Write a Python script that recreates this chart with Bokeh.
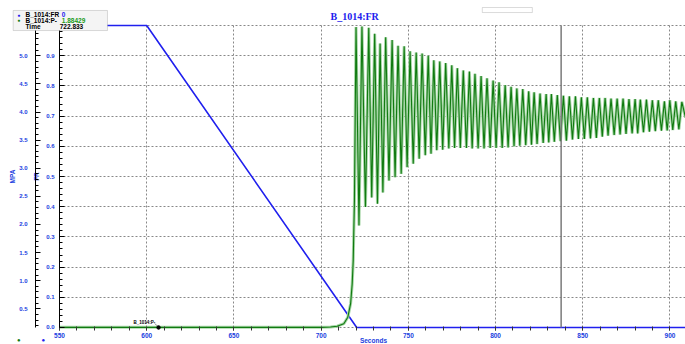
import numpy as np
from bokeh.plotting import figure
from bokeh.models import (Range1d, LinearAxis, FixedTicker, Label, BoxAnnotation,
                          PrintfTickFormatter)
from bokeh.embed import file_html
from bokeh.resources import INLINE

# ---- data ----
fr_t = [550, 600, 720.4, 908.9]
fr_v = [1.0, 1.0, 0.0, 0.0]

rise_t = [550, 700, 705.4, 709.2, 713.0, 715.3, 716.9, 717.8, 718.4, 718.7, 719.1]
rise_v = [0.17, 0.17, 0.175, 0.19, 0.235, 0.35, 0.59, 0.94, 1.36, 1.84, 2.43]

peak_t = [720.0, 723.4, 727.3, 730.7, 733.8, 737.0, 740.7, 744.1, 747.6, 751.0,
          754.5, 757.9, 761.4, 764.6, 768.0, 771.4, 774.9, 778.1, 781.5, 785.0,
          788.2, 791.7, 795.1, 798.6, 802.0, 805.5, 808.9, 812.2, 815.6, 819.0,
          822.1, 825.5, 829.0, 832.0, 835.4, 838.9, 842.3, 845.8, 849.2, 852.6,
          856.1, 859.5, 862.8, 866.2, 869.7, 873.1, 876.5, 880.0, 883.0, 886.5,
          889.9, 893.3, 896.8, 899.9, 903.3, 906.8]
peak_v = [5.51, 5.52, 5.50, 5.39, 5.22, 5.33, 5.28, 5.18, 5.17, 5.08,
          5.06, 5.04, 5.00, 4.92, 4.90, 4.87, 4.83, 4.78, 4.74, 4.72,
          4.68, 4.64, 4.60, 4.56, 4.53, 4.48, 4.45, 4.42, 4.41, 4.37,
          4.35, 4.33, 4.32, 4.32, 4.30, 4.29, 4.28, 4.28, 4.26, 4.26,
          4.25, 4.25, 4.25, 4.24, 4.24, 4.24, 4.23, 4.23, 4.22, 4.22,
          4.21, 4.21, 4.19, 4.21, 4.19, 4.18]
trough_t = [721.7, 725.4, 729.0, 732.3, 735.4, 738.9, 742.4, 745.9, 749.3, 752.8,
            756.2, 759.7, 763.0, 766.3, 769.7, 773.2, 776.5, 779.8, 783.3, 786.6,
            790.0, 793.4, 796.9, 800.3, 803.8, 807.2, 810.6, 813.9, 817.3, 820.6,
            823.8, 827.3, 830.5, 833.7, 837.2, 840.6, 844.1, 847.5, 850.9, 854.4,
            857.8, 861.2, 864.5, 868.0, 871.4, 874.8, 878.3, 881.5, 884.8, 888.2,
            891.6, 895.1, 898.4, 901.6, 905.1]
trough_v = [1.98, 2.31, 2.48, 2.37, 2.57, 2.78, 2.84, 2.90, 3.02, 3.08,
            3.17, 3.23, 3.26, 3.32, 3.33, 3.35, 3.36, 3.36, 3.36, 3.35,
            3.35, 3.35, 3.36, 3.36, 3.36, 3.37, 3.39, 3.40, 3.41, 3.42,
            3.43, 3.45, 3.46, 3.47, 3.48, 3.49, 3.51, 3.52, 3.52, 3.53,
            3.54, 3.56, 3.58, 3.59, 3.60, 3.61, 3.62, 3.62, 3.64, 3.65,
            3.66, 3.67, 3.67, 3.68, 3.69]
end_t = [908.9]
end_v = [3.9]

x_ticks = [550, 600, 650, 700, 750, 800, 850, 900]
fr_ticks = [0.0, 0.1, 0.2, 0.3, 0.4, 0.5, 0.6, 0.7, 0.8, 0.9]
mpa_ticks = [0.5, 1.0, 1.5, 2.0, 2.5, 3.0, 3.5, 4.0, 4.5, 5.0]
cursor_time = 837.6

legend_time = "722.833"
legend_fr = "0"
legend_p = "1.88429"

# axis extents (data units)
T0, T1 = 550, 908.9
FR0, FR1 = 0.0, 1.0
P0, P1 = 0.167, 5.539

# ---- build pressure series ----
osc = sorted(list(zip(peak_t, peak_v)) + list(zip(trough_t, trough_v)))
p_t = rise_t + [a for a, b in osc] + end_t
p_v = rise_v + [b for a, b in osc] + end_v

BLUE = "#2020ee"
LBL = "#2040e0"
GREEN = "#107a10"
FONT = "Liberation Sans"

# frame covers the whole canvas; axes are pinned with fixed_location
p = figure(width=685, height=344, output_backend="svg", toolbar_location=None,
           x_range=Range1d(516.17, 908.9), y_range=Range1d(-0.0563, 1.0828),
           min_border=0, min_border_left=0, min_border_right=0,
           min_border_top=0, min_border_bottom=0)
p.outline_line_color = None
p.background_fill_color = "white"
p.border_fill_color = "white"
p.extra_y_ranges = {"mpa": Range1d(-0.1354, 5.9837)}

# grids
p.xgrid.ticker = FixedTicker(ticks=[600, 650, 700, 750, 800, 850, 900])
p.ygrid.ticker = FixedTicker(ticks=[0.0, 0.1, 0.2, 0.3, 0.4, 0.5, 0.6, 0.7, 0.8, 0.9, 1.0])
p.xgrid.bounds = (T0, T1)
p.xgrid.cross_bounds = (FR0, FR1)
p.ygrid.bounds = (FR0, FR1)
p.ygrid.cross_bounds = (T0, T1)
for g in (p.xgrid, p.ygrid):
    g.grid_line_color = "#888888"
    g.grid_line_dash = "2 2"
    g.grid_line_width = 1

# x axis
xa = p.xaxis[0]
xa.fixed_location = 0.0
xa.bounds = (T0, T1)
xa.ticker = FixedTicker(ticks=x_ticks, minor_ticks=list(np.arange(550, 909, 10)))
xa.axis_line_color = None
xa.major_tick_in = 0
xa.major_tick_out = 3
xa.minor_tick_in = 1
xa.minor_tick_out = 3
xa.major_tick_line_color = "#333333"
xa.minor_tick_line_color = "#333333"
xa.major_label_standoff = 3
xa.major_label_text_font = FONT
xa.major_label_text_font_size = "6.5px"
xa.major_label_text_font_style = "bold"
xa.major_label_text_color = LBL

# FR axis (inner)
ya = p.yaxis[0]
ya.fixed_location = T0
ya.bounds = (FR0, FR1)
ya.ticker = FixedTicker(ticks=fr_ticks, minor_ticks=list(np.round(np.arange(0, 1.001, 0.02), 3)))
ya.axis_label = "FR"

mpa_axis = LinearAxis(y_range_name="mpa", fixed_location=536.24, bounds=(P0, P1),
                      ticker=FixedTicker(ticks=mpa_ticks,
                                         minor_ticks=list(np.round(np.arange(0.2, 5.54, 0.1), 2))),
                      axis_label="MPA")
p.add_layout(mpa_axis, "left")

for ax, st, ast in ((ya, 5, 3), (mpa_axis, 8, 0)):
    ax.formatter = PrintfTickFormatter(format="%.1f")
    ax.axis_line_color = "black"
    ax.axis_line_width = 1
    ax.major_tick_in = 5
    ax.major_tick_out = 0
    ax.minor_tick_in = 3
    ax.minor_tick_out = 0
    ax.major_tick_line_color = "black"
    ax.minor_tick_line_color = "black"
    ax.major_label_standoff = st
    ax.major_label_text_font = FONT
    ax.major_label_text_font_size = "6px"
    ax.major_label_text_font_style = "bold"
    ax.major_label_text_color = LBL
    ax.axis_label_standoff = ast
    ax.axis_label_text_font = FONT
    ax.axis_label_text_font_size = "6.5px"
    ax.axis_label_text_font_style = "bold"
    ax.axis_label_text_color = LBL

# lines
p.line(fr_t, fr_v, line_color=BLUE, line_width=1.6)
p.line(p_t, p_v, y_range_name="mpa", line_color="#a6d6a6", line_width=3.0)
p.line(p_t, p_v, y_range_name="mpa", line_color=GREEN, line_width=1.1)

# cursor
p.line([cursor_time, cursor_time], [FR0, FR1], line_color="#7a7a7a", line_width=1.5)

# small series tag near bottom
p.line([604.5, 606.8], [0.0132, 0.002], line_color="#777777", line_width=0.8)
p.scatter([606.8], [0.0], size=3.5, color="black")
p.add_layout(Label(x=592.4, y=0.0166, text="B_1014:P-", text_font=FONT, text_font_size="4.5px",
                   text_font_style="bold", text_color="black", text_baseline="middle"))

# title
p.add_layout(Label(x=719.2, y=1.0308, text="B_1014:FR", text_font="Liberation Serif",
                   text_font_size="10px", text_font_style="bold", text_color=BLUE,
                   text_align="center", text_baseline="middle"))

# top-right small box
p.add_layout(BoxAnnotation(left=792.4, right=821.1, bottom=1.043, top=1.0596,
                           fill_color="white", fill_alpha=1, line_color="#888888", line_width=1))

# legend box
p.add_layout(BoxAnnotation(left=523.45, right=577.5, bottom=0.9834, top=1.0497,
                           fill_color="#f4f4f4", fill_alpha=1, line_color="#888888", line_width=1))
rows = [(1.0364, BLUE, "B_1014:FR", legend_fr, BLUE),
        (1.0166, GREEN, "B_1014:P-", legend_p, "#1a9a1a")]
for y, dc, name, val, vc in rows:
    p.add_layout(Label(x=526.7, y=y, text="●", text_font=FONT, text_font_size="5px",
                       text_color=dc, text_align="center", text_baseline="middle"))
    p.add_layout(Label(x=530.5, y=y, text=name, text_font=FONT, text_font_size="6.5px",
                       text_font_style="bold", text_color="black", text_baseline="middle"))
    p.add_layout(Label(x=551.3, y=y, text=val, text_font=FONT, text_font_size="6.5px",
                       text_font_style="bold", text_color=vc, text_baseline="middle"))
p.add_layout(Label(x=530.5, y=0.9977, text="Time", text_font=FONT, text_font_size="6.5px",
                   text_font_style="bold", text_color="black", text_baseline="middle"))
p.add_layout(Label(x=563.6, y=0.9977, text=legend_time, text_font=FONT, text_font_size="6.5px",
                   text_font_style="bold", text_color="black", text_align="right",
                   text_baseline="middle"))

# bottom-left markers
p.add_layout(Label(x=526.7, y=-0.043, text="●", text_font=FONT, text_font_size="6px",
                   text_color=GREEN, text_align="center", text_baseline="middle"))
p.add_layout(Label(x=540.7, y=-0.043, text="●", text_font=FONT, text_font_size="6px",
                   text_color=BLUE, text_align="center", text_baseline="middle"))

# x axis title, at the very bottom edge
p.add_layout(Label(x=730.0, y=-0.0546, text="Seconds", text_font=FONT, text_font_size="6.5px",
                   text_font_style="bold", text_color=LBL, text_align="center",
                   text_baseline="bottom"))

open("out.html", "w").write(file_html(p, INLINE))
